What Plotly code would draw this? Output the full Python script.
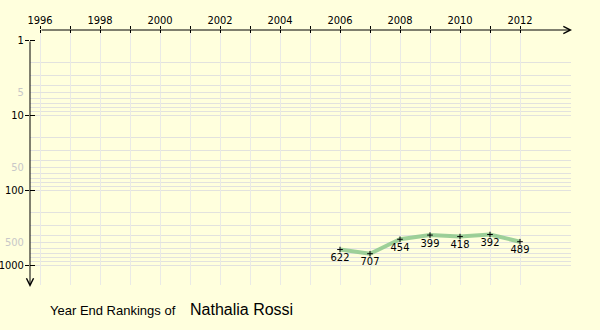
import plotly.graph_objects as go

# ---- data ----
years = [2006, 2007, 2008, 2009, 2010, 2011, 2012]
ranks = [622, 707, 454, 399, 418, 392, 489]
axis_years = list(range(1996, 2013))
year_labels = [str(y) if y % 2 == 0 else "" for y in axis_years]
major_ranks = [1, 10, 100, 1000]
major_labels = ["1", "10", "100", "1000"]
minor_label_ranks = [5, 50, 500]
minor_labels = ["5", "50", "500"]
grid_ranks = [m * 10 ** d for d in range(3) for m in range(2, 11)]
player = "Nathalia Rossi"
caption = "Year End Rankings of"

# ---- style ----
BG = "#FFFFDD"
HGRID = "#E2E2DE"
VGRID = "#EAEAE6"
FONT = "DejaVu Sans Condensed, DejaVu Sans, Verdana"
FS = 11
TICKFONT = dict(family=FONT, size=FS, color="black")
X_RANGE = [1995.6667, 2013.7]
Y_RANGE = [3.26667, -0.13333]
PW, PH = 541, 255  # plot area size in px (l=30, t=30)

fig = go.Figure()
fig.add_trace(go.Scatter(
    x=years, y=ranks, mode="lines+markers+text",
    text=[str(r) for r in ranks], textposition="bottom center",
    textfont=dict(family=FONT, size=FS, color="black"),
    line=dict(color="rgba(140,200,140,0.85)", width=4),
    marker=dict(symbol="cross-thin", size=4, color="black",
                line=dict(color="black", width=1)),
    cliponaxis=False, showlegend=False, hoverinfo="skip",
))
# helper empty traces for overlay axes
fig.add_trace(go.Scatter(x=[], y=[], xaxis="x2", yaxis="y2", showlegend=False))
fig.add_trace(go.Scatter(x=[], y=[], xaxis="x2", yaxis="y3", showlegend=False))

common_x = dict(range=X_RANGE, side="top", zeroline=False, showline=False,
                fixedrange=True, automargin=False)
common_y = dict(type="log", range=Y_RANGE, zeroline=False, showline=False,
                fixedrange=True, automargin=False)

fig.update_layout(
    width=600, height=330,
    margin=dict(l=30, r=29, t=30, b=45, autoexpand=False),
    paper_bgcolor=BG, plot_bgcolor=BG,
    xaxis=dict(**common_x, anchor="y", tickmode="array", tickvals=axis_years,
               ticktext=year_labels, ticks="outside", ticklen=3, tickwidth=1,
               tickcolor="black", tickfont=TICKFONT, ticklabelstandoff=-2,
               showgrid=True, gridcolor=VGRID, gridwidth=1),
    xaxis2=dict(**common_x, anchor="y", overlaying="x", tickmode="array",
                tickvals=axis_years, ticks="inside", ticklen=3, tickwidth=1,
                tickcolor="black", showticklabels=False, showgrid=False),
    yaxis=dict(**common_y, anchor="x", tickmode="array", tickvals=major_ranks,
               ticktext=major_labels, ticks="outside", ticklen=4, tickwidth=1,
               tickcolor="black", tickfont=TICKFONT, ticklabelstandoff=-1,
               showgrid=False),
    yaxis2=dict(**common_y, anchor="x", overlaying="y", side="left",
                tickmode="array", tickvals=minor_label_ranks,
                ticktext=minor_labels, ticks="outside", ticklen=4,
                tickcolor="rgba(0,0,0,0)", ticklabelstandoff=-1,
                tickfont=dict(family=FONT, size=FS, color="#C8C8C8"),
                showgrid=True, gridcolor=HGRID, gridwidth=1,
                minor=dict(tickmode="array", tickvals=grid_ranks, showgrid=True,
                           gridcolor=HGRID, gridwidth=1, ticks="")),
    yaxis3=dict(**common_y, anchor="x", overlaying="y", side="left",
                tickmode="array", tickvals=major_ranks, ticks="inside",
                ticklen=5, tickwidth=1, tickcolor="black",
                showticklabels=False, showgrid=False),
)

# axis lines with arrows (paper coords relative to plot area)
fig.add_annotation(xref="paper", yref="paper", x=(572 - 30) / PW, y=1,
                   ax=-532, ay=0, text="", showarrow=True, arrowhead=5,
                   arrowsize=1.4, arrowwidth=1, arrowcolor="black")
fig.add_annotation(xref="paper", yref="paper", x=0, y=(285 - 287) / PH,
                   ax=0, ay=-247, text="", showarrow=True, arrowhead=5,
                   arrowsize=1.4, arrowwidth=1, arrowcolor="black")

# caption
fig.add_annotation(xref="paper", yref="paper", x=18 / PW, y=-25 / PH,
                   xanchor="left", yanchor="middle", showarrow=False,
                   text=caption,
                   font=dict(family="Liberation Sans, Arial", size=13, color="black"))
fig.add_annotation(xref="paper", yref="paper", x=158 / PW, y=-24 / PH,
                   xanchor="left", yanchor="middle", showarrow=False,
                   text=player,
                   font=dict(family="Liberation Sans, Arial", size=16, color="black"))

fig.write_html("out.html")
